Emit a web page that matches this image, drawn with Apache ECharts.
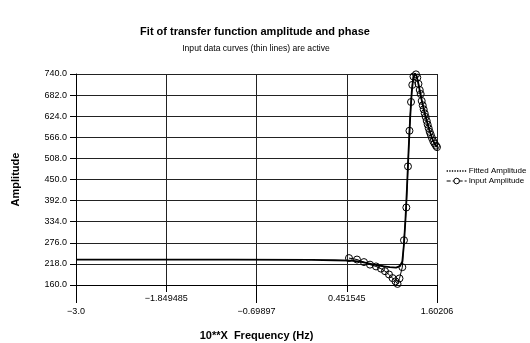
<!DOCTYPE html>
<html>
<head>
<meta charset="utf-8">
<script src="https://cdn.jsdelivr.net/npm/echarts@6/dist/echarts.min.js"></script>
<style>
html,body{margin:0;padding:0;background:#fff;}
#chart{width:530px;height:343px;}
</style>
</head>
<body>
<div id="chart"></div>
<script>
var xTicks = [-3.0, -1.849485, -0.69897, 0.451545, 1.60206];
var xTickLabels = ['\u22123.0', '\u22121.849485', '\u22120.69897', '0.451545', '1.60206'];
var yTicks = [160, 218, 276, 334, 392, 450, 508, 566, 624, 682, 740];

// fitted curve (thick line), x = log10 frequency
var fittedX = [-3.0, -2.0, -1.0, 0.0, 0.3, 0.5, 0.6, 0.7, 0.8, 0.9, 1.0, 1.08, 1.13, 1.16, 1.18, 1.2, 1.22, 1.24, 1.26, 1.28, 1.3, 1.32, 1.34, 1.36, 1.4, 1.45, 1.5, 1.55, 1.60206];
var fittedY = [230, 230, 229.5, 229, 228, 227, 225, 221, 216, 212, 209, 208, 212, 225, 270, 340, 430, 530, 620, 690, 730, 741, 735, 718, 675, 628, 589, 557, 539];

// input data (circles)
var inputX = [0.48, 0.582, 0.671, 0.748, 0.825, 0.888, 0.939, 0.99, 1.035, 1.073, 1.099, 1.124, 1.16, 1.181, 1.211, 1.232, 1.251, 1.271, 1.287, 1.302, 1.334, 1.351, 1.366, 1.382, 1.394, 1.407, 1.42, 1.432, 1.445, 1.458, 1.471, 1.483, 1.496, 1.509, 1.523, 1.538, 1.555, 1.571, 1.589, 1.602];
var inputY = [234, 230, 223, 216, 211, 205, 198, 189, 179, 170, 163, 178, 209, 283, 373, 486, 584, 663, 710, 733, 739, 730, 713, 696, 685, 666, 654, 643, 632, 622, 611, 601, 591, 581, 573, 564, 555, 549, 543, 539];

var lowerIdx = [0, 2, 4];

var font = 'Liberation Sans, Arial, sans-serif';

var myChart = echarts.init(document.getElementById('chart'));

var fittedData = fittedX.map(function (x, i) { return [x, fittedY[i]]; });
var inputData = inputX.map(function (x, i) { return [x, inputY[i]]; });

var option = {
    backgroundColor: '#fff',
    animation: false,
    textStyle: { fontFamily: font, color: '#000' },
    title: [
        {
            text: 'Fit of transfer function amplitude and phase',
            left: 250, top: 21, textAlign: 'center',
            textStyle: { fontSize: 11, fontWeight: 'bold', color: '#000', fontFamily: font }
        },
        {
            text: 'Input data curves (thin lines) are active',
            left: 251, top: 39, textAlign: 'center',
            textStyle: { fontSize: 8.6, fontWeight: 'normal', color: '#000', fontFamily: font }
        }
    ],
    legend: {
        orient: 'vertical',
        left: 441, top: 162,
        itemWidth: 20, itemHeight: 7, itemGap: 2,
        textStyle: { fontSize: 8, color: '#000', fontFamily: font, padding: [0, 0, 0, -3] },
        data: [
            {
                name: 'Fitted Amplitude',
                itemStyle: { color: 'rgba(0,0,0,0)', borderWidth: 0 },
                lineStyle: { type: 'dotted', width: 1.3, color: '#000' }
            },
            {
                name: 'Input Amplitude',
                itemStyle: { color: '#fff', borderColor: '#000', borderWidth: 1 },
                lineStyle: { type: 'dashed', width: 1, color: '#000' }
            }
        ]
    },
    grid: { left: 76, right: 93, top: 74, bottom: 58, containLabel: false, outerBoundsMode: 'none' },
    xAxis: [
        {
            type: 'value',
            min: -3.0, max: 1.60206,
            name: '10**X  Frequency (Hz)',
            nameLocation: 'middle', nameGap: 45,
            nameTextStyle: { fontSize: 11, fontWeight: 'bold', color: '#000', fontFamily: font },
            axisLine: { show: true, onZero: false, lineStyle: { color: '#000', width: 1 } },
            axisTick: { show: true, length: 7, customValues: xTicks, lineStyle: { color: '#000' } },
            axisLabel: {
                customValues: xTicks,
                fontSize: 9, color: '#000', margin: 7, lineHeight: 13,
                formatter: function (v) {
                    var i = xTicks.indexOf(v);
                    if (i < 0) return '';
                    return lowerIdx.indexOf(i) >= 0 ? '\n' + xTickLabels[i] : xTickLabels[i];
                }
            },
            splitLine: { show: true, lineStyle: { color: '#222', width: 1 } }
        },
        {
            type: 'value',
            min: -3.0, max: 1.60206,
            position: 'bottom',
            axisLine: { show: false, onZero: false },
            axisTick: { show: true, length: 18, customValues: [xTicks[0], xTicks[2], xTicks[4]], lineStyle: { color: '#000' } },
            axisLabel: { show: false },
            splitLine: { show: false }
        }
    ],
    yAxis: {
        type: 'value',
        min: 160, max: 740,
        name: 'Amplitude',
        nameLocation: 'middle', nameGap: 55, nameRotate: 90,
        nameTextStyle: { fontSize: 11, fontWeight: 'bold', color: '#000', fontFamily: font },
        axisLine: { show: true, onZero: false, lineStyle: { color: '#000', width: 1 } },
        axisTick: { show: true, length: 6, customValues: yTicks, lineStyle: { color: '#000' } },
        axisLabel: {
            customValues: yTicks,
            fontSize: 9, color: '#000', margin: 9,
            formatter: function (v) { return v.toFixed(1); }
        },
        splitLine: { show: true, lineStyle: { color: '#222', width: 1 } }
    },
    series: [
        {
            name: 'Fitted Amplitude',
            type: 'line',
            data: fittedData,
            showSymbol: false,
            symbol: 'none',
            color: '#000',
            lineStyle: { color: '#000', width: 1.8 },
            z: 3
        },
        {
            name: 'Input Amplitude',
            type: 'line',
            data: inputData,
            symbol: 'circle',
            symbolSize: 7,
            color: '#000',
            itemStyle: { color: 'rgba(255,255,255,0)', borderColor: '#000', borderWidth: 1 },
            lineStyle: { color: '#000', width: 1 },
            z: 4
        }
    ]
};
myChart.setOption(option);
</script>
</body>
</html>
